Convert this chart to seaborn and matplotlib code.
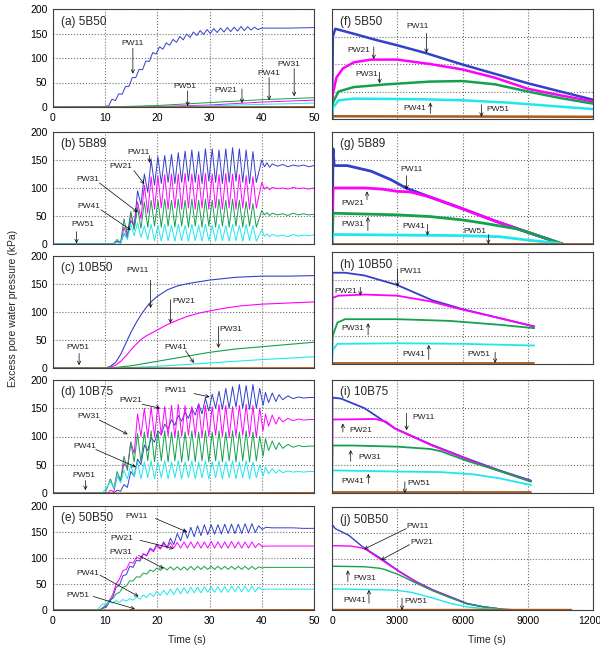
import numpy as np
import matplotlib
matplotlib.use("Agg")
import matplotlib.pyplot as plt
import seaborn as sns

sns.set_style("white")
plt.rcParams["font.family"] = ["Liberation Sans", "DejaVu Sans"]

COLORS = {"PW11": "#3340c8", "PW21": "#ff00ff", "PW31": "#14a04c",
          "PW41": "#1ee8ee", "PW51": "#a65a1e"}
PERIOD = 1.3  # shaking cycle seen in the records (s)

###################################################################
# (a) 5B50  - shaking phase
a_cyc_start = 10.0
a_pw11_peaks = [2, 16, 27, 42, 60, 77, 94, 111, 123, 131, 138, 144, 149, 153, 156, 158,
                160, 161, 162, 163, 164, 164, 163]
a_pw11_troughs = [2, 13, 26, 42, 60, 76, 93, 108, 118, 126, 132, 137, 142, 146, 148, 150,
                  152, 153, 154, 155, 156, 157, 158]
a_pw11_tail_t = [40, 45, 50]
a_pw11_tail_v = [161, 161, 162]
a_pw21 = [(0, 0), (10, 0), (20, 1), (30, 4), (40, 10), (50, 14)]
a_pw31 = [(0, 0), (10, 0), (20, 3), (30, 9), (40, 15), (50, 19)]
a_pw41 = [(0, 0), (15, 0), (25, 1), (35, 4), (50, 8)]
a_pw51 = [(0, 0), (50, 1)]

# (b) 5B89
b_cyc_start = 12.3
b_tail_t = [40.0, 40.5, 41, 41.5, 42, 43, 44, 45, 46, 47, 48, 49, 50]
b_pw11_peaks = [4, 18, 42, 95, 125, 150, 156, 158, 160, 163, 166, 168, 165, 170, 170, 168,
                170, 172, 170, 168, 165]
b_pw11_troughs = [2, 12, 32, 70, 92, 105, 108, 110, 108, 110, 112, 110, 108, 112, 110, 108,
                  110, 112, 110, 108, 110]
b_pw11_tail = [150, 138, 145, 137, 143, 139, 142, 138, 141, 139, 141, 138, 140]
b_pw21_peaks = [5, 30, 55, 75, 105, 120, 122, 124, 125, 125, 126, 125, 124, 126, 125, 124,
                126, 125, 124, 122, 120]
b_pw21_troughs = [2, 12, 30, 45, 55, 62, 64, 62, 64, 62, 64, 62, 64, 62, 64, 62, 64, 62, 64,
                  62, 64]
b_pw21_tail = [110, 98, 102, 97, 101, 99, 100, 98, 101, 99, 100, 98, 100]
b_pw31_peaks = [8, 45, 58, 65, 75, 78, 78, 80, 78, 80, 78, 80, 78, 80, 78, 80, 78, 80, 78,
                76, 72]
b_pw31_troughs = [2, 15, 25, 28, 30, 32, 30, 32, 30, 32, 30, 32, 30, 32, 30, 32, 30, 32, 30,
                  32, 30]
b_pw31_tail = [60, 52, 56, 51, 55, 52, 54, 51, 55, 52, 54, 52, 53]
b_pw41_peaks = [3, 20, 35, 38, 32, 35, 33, 35, 33, 35, 33, 35, 33, 35, 33, 35, 33, 35, 33,
                35, 33]
b_pw41_troughs = [1, 8, 15, 12, 8, 6, 5, 6, 5, 6, 5, 6, 5, 6, 5, 6, 5, 6, 5, 6, 5]
b_pw41_tail = [25, 14, 18, 13, 17, 14, 16, 13, 17, 14, 16, 15, 16]
b_pw51 = [(0, 0.5), (50, 0.5)]

# (c) 10B50
c_pw11 = [(0, 0), (10, 0), (11, 3), (12, 10), (13, 25), (14, 45), (15, 65), (16, 82), (17, 97),
          (18, 110), (19, 120), (20, 128), (22, 140), (24, 147), (26, 151), (28, 154), (30, 157),
          (32, 159), (35, 162), (40, 164), (45, 164), (50, 165)]
c_pw21 = [(0, 0), (10.5, 0), (12, 5), (13, 12), (14, 22), (15, 33), (16, 43), (17, 52), (18, 58),
          (20, 68), (22, 78), (24, 86), (26, 93), (28, 98), (30, 102), (33, 107), (36, 111),
          (40, 114), (45, 116), (50, 118)]
c_pw31 = [(0, 0), (11, 0), (15, 4), (20, 12), (25, 20), (30, 28), (35, 34), (40, 38), (45, 42),
          (50, 46)]
c_pw41 = [(0, 0), (13, 0), (20, 3), (25, 6), (30, 9), (40, 15), (50, 20)]
c_pw51 = [(0, 0), (50, 0.5)]

# (d) 10B75
d_cyc_start = 11.0
d_tail_t = [40.7, 41.3, 42, 42.7, 43.3, 44, 45, 46, 47, 48, 49, 50]
d_pw11_peaks = [0, 5, 15, 38, 60, 85, 98, 110, 122, 130, 137, 143, 150, 158, 168, 175, 180,
                185, 188, 192, 190, 192, 185]
d_pw11_troughs = [0, 3, 10, 30, 50, 75, 90, 103, 113, 120, 127, 132, 138, 140, 145, 150, 148,
                  150, 152, 150, 148, 150, 155]
d_pw11_tail = [178, 160, 177, 162, 174, 165, 172, 167, 170, 168, 169, 169]
d_pw21_peaks = [5, 30, 52, 90, 140, 150, 152, 155, 153, 155, 157, 155, 153, 157, 155, 153,
                157, 155, 153, 155, 157, 155, 150]
d_pw21_troughs = [2, 22, 45, 70, 100, 98, 100, 102, 100, 98, 100, 102, 100, 98, 100, 102, 100,
                  98, 100, 102, 100, 98, 110]
d_pw21_tail = [140, 118, 138, 122, 134, 126, 132, 128, 131, 129, 130, 130]
d_pw31_peaks = [25, 38, 65, 90, 105, 108, 110, 108, 110, 108, 110, 108, 110, 108, 110, 108,
                110, 108, 110, 108, 110, 108, 100]
d_pw31_troughs = [8, 22, 40, 55, 55, 57, 55, 57, 55, 57, 55, 57, 55, 57, 55, 57, 55, 57, 55,
                  57, 55, 57, 65]
d_pw31_tail = [96, 75, 92, 77, 89, 79, 86, 81, 84, 82, 83, 83]
d_pw41_peaks = [20, 30, 40, 50, 55, 55, 57, 55, 57, 55, 57, 55, 57, 55, 57, 55, 57, 55, 57,
                55, 57, 55, 50]
d_pw41_troughs = [8, 18, 25, 28, 25, 27, 25, 27, 25, 27, 25, 27, 25, 27, 25, 27, 25, 27, 25,
                  27, 25, 27, 30]
d_pw41_tail = [46, 34, 43, 35, 41, 36, 39, 37, 38, 37, 38, 38]
d_pw51 = [(0, 0), (12, 0), (50, 1)]

# (e) 50B50
e_cyc_start = 9.5
e_tail_t = [40.8, 42, 44, 46, 48, 50]
e_pw11_peaks = [3, 15, 44, 66, 84, 96, 108, 119, 127, 131, 138, 147, 155, 159, 162, 164, 164,
                164, 165, 165, 165, 166, 166, 162]
e_pw11_troughs = [5, 25, 48, 68, 82, 94, 105, 114, 118, 120, 126, 133, 138, 141, 143, 145, 146,
                  146, 147, 147, 147, 148, 149, 155]
e_pw11_tail = [159, 158, 158, 158, 157, 157]
e_pw21_peaks = [4, 18, 50, 76, 92, 102, 108, 117, 124, 128, 130, 130, 131, 131, 131, 131, 132,
                131, 131, 132, 131, 131, 131, 128]
e_pw21_troughs = [8, 30, 60, 78, 90, 98, 104, 112, 117, 119, 119, 119, 119, 119, 119, 119, 119,
                  119, 119, 119, 119, 119, 120, 122]
e_pw21_tail = [123, 123, 123, 123, 123, 123]
e_pw31_peaks = [4, 19, 31, 44, 56, 64, 71, 77, 81, 82, 83, 83, 83, 84, 84, 84, 84, 84, 84, 84,
                84, 84, 84, 83]
e_pw31_troughs = [10, 22, 34, 46, 56, 63, 69, 74, 76, 77, 77, 77, 77, 77, 78, 78, 78, 78, 78,
                  78, 78, 78, 78, 81]
e_pw31_tail = [82, 82, 82, 82, 82, 82]
e_pw41_peaks = [12, 15, 18, 20, 22, 25, 29, 32, 36, 38, 40, 42, 43, 44, 44, 45, 45, 45, 45, 46,
                46, 46, 46, 44]
e_pw41_troughs = [10, 13, 15, 17, 19, 21, 24, 26, 28, 29, 30, 31, 32, 33, 33, 34, 34, 34, 34,
                  35, 35, 35, 35, 39]
e_pw41_tail = [40, 40, 40, 40, 40, 40]
e_pw51 = [(0, 0), (50, 1)]

# (f)-(j) dissipation records (t in s)
f_pw11 = [(0, 0), (40, 150), (150, 164), (1000, 155), (2000, 144), (3000, 134), (4300, 120),
          (6000, 99), (7500, 82), (9000, 65), (10500, 50), (12000, 35)]
f_pw21 = [(0, 0), (40, 45), (200, 75), (500, 92), (1000, 103), (1800, 108), (3000, 108),
          (4500, 100), (6000, 90), (7500, 75), (9000, 55), (10500, 43), (12000, 32)]
f_pw31 = [(0, 0), (40, 30), (300, 50), (1000, 58), (2500, 63), (4500, 68), (6000, 69),
          (7500, 63), (9000, 50), (10500, 38), (12000, 28)]
f_pw41 = [(0, 0), (40, 20), (300, 34), (1000, 37), (4000, 36), (6000, 34), (8000, 30),
          (10000, 24), (12000, 18)]
f_pw51 = [(0, 0), (30, 5), (12000, 4)]

g_pw11 = [(0, 0), (50, 170), (100, 140), (700, 140), (1800, 130), (2700, 115), (3400, 100),
          (4500, 84), (6000, 63), (7500, 41), (9000, 21), (10600, 0)]
g_pw21 = [(0, 0), (50, 100), (1500, 100), (2300, 98), (3000, 94), (3600, 93), (4500, 84),
          (6000, 63), (7500, 41), (9000, 21), (10600, 0)]
g_pw31 = [(0, 0), (50, 55), (1000, 54), (3000, 52), (4500, 49), (6000, 43), (7000, 37),
          (8500, 27), (9000, 21), (10600, 0)]
g_pw41 = [(0, 0), (50, 17), (3000, 16), (6000, 15), (7700, 13), (9000, 7), (10500, 1)]
g_pw51 = [(0, 0.5), (12000, 0.5)]

h_pw11 = [(0, 0), (20, 163), (600, 163), (1500, 158), (3000, 141), (4600, 114), (6000, 98),
          (7700, 82), (9300, 67)]
h_pw21 = [(0, 0), (20, 118), (300, 122), (1500, 124), (3000, 122), (4500, 112), (5800, 99),
          (7700, 82), (9300, 67)]
h_pw31 = [(0, 0), (30, 50), (250, 74), (600, 80), (3000, 80), (5400, 77), (7700, 70),
          (9300, 64)]
h_pw41 = [(0, 0), (30, 25), (250, 36), (3000, 37), (6000, 36), (9300, 33)]
h_pw51 = [(0, 1), (9300, 1)]

i_pw11 = [(0, 0), (20, 169), (420, 167), (1500, 150), (2900, 114), (4600, 85), (6200, 61),
          (7700, 40), (9150, 22)]
i_pw21 = [(0, 0), (20, 130), (2000, 131), (2500, 126), (2900, 114), (4600, 84), (6200, 60),
          (7700, 39), (9150, 21)]
i_pw31 = [(0, 0), (20, 84), (1000, 84), (3000, 82), (4500, 78), (5000, 74), (6200, 57),
          (7700, 39), (9150, 20)]
i_pw41 = [(0, 0), (20, 40), (3000, 38), (5000, 37), (6500, 33), (7700, 26), (9150, 14)]
i_pw51 = [(0, 1), (9150, 1)]

j_pw11 = [(0, 0), (10, 166), (150, 158), (775, 145), (1400, 123), (2250, 100), (3100, 75),
          (3875, 55), (4650, 39), (5425, 26), (6200, 13), (6975, 6), (7750, 2), (8500, 0)]
j_pw21 = [(0, 0), (10, 125), (900, 124), (1300, 121), (1500, 119), (2250, 98), (3100, 74),
          (3875, 54), (4650, 38), (5425, 25), (6200, 12), (6975, 6), (7750, 2)]
j_pw31 = [(0, 0), (10, 85), (1500, 84), (2200, 81), (2400, 79), (3100, 68), (3875, 52),
          (4650, 37), (5425, 24), (6200, 12), (6975, 6), (7750, 2)]
j_pw41 = [(0, 0), (10, 41), (2500, 39), (3000, 38), (3700, 34), (4650, 23), (5425, 13),
          (6200, 6), (6975, 3), (7750, 1)]
j_pw51 = [(0, 1), (11000, 1)]

# labels: (text, text x, text y, ha, arrow tail x, y, arrow tip x, y)
a_notes = [("PW11", 15.2, 130, "center", 15.3, 120, 15.3, 68),
           ("PW51", 25.2, 41, "center", 25.8, 33, 25.8, 2),
           ("PW21", 33.1, 34, "center", 36.2, 37, 36.2, 8),
           ("PW41", 41.4, 69, "center", 41.4, 60, 41.4, 14),
           ("PW31", 45.2, 86, "center", 46.2, 78, 46.2, 22)]
b_notes = [("PW11", 16.4, 164, "center", 18.5, 158, 18.5, 145),
           ("PW21", 13.0, 139, "center", 15.5, 131, 17.5, 107),
           ("PW31", 6.6, 115, "center", 8.9, 109, 16.2, 57),
           ("PW41", 6.9, 67, "center", 9.2, 61, 14.9, 25),
           ("PW51", 5.7, 34, "center", 4.5, 22, 4.5, 1)]
c_notes = [("PW11", 16.2, 175, "center", 18.7, 157, 18.7, 107),
           ("PW21", 25.1, 119, "center", 22.5, 122, 22.5, 80),
           ("PW31", 34.0, 68, "center", 31.7, 74, 31.7, 36),
           ("PW41", 23.5, 37, "center", 25.4, 31, 27.0, 9),
           ("PW51", 4.7, 37, "center", 5.0, 26, 5.0, 5)]
d_notes = [("PW11", 23.5, 181, "center", 27.0, 176, 30.0, 170),
           ("PW21", 14.9, 163, "center", 17.1, 157, 20.5, 150),
           ("PW31", 6.9, 135, "center", 8.9, 129, 14.3, 104),
           ("PW41", 6.0, 83, "center", 8.2, 77, 15.9, 46),
           ("PW51", 6.0, 31, "center", 6.2, 22, 6.2, 5)]
e_notes = [("PW11", 16.1, 179, "center", 19.6, 176, 25.7, 150),
           ("PW21", 13.2, 137, "center", 16.7, 134, 23.1, 118),
           ("PW31", 12.9, 111, "center", 16.4, 105, 21.2, 80),
           ("PW41", 6.7, 70, "center", 9.0, 67, 16.4, 26),
           ("PW51", 4.8, 28, "center", 7.7, 26, 15.7, 2)]
f_notes = [("PW11", 3940, 168, "center", 4340, 156, 4340, 120),
           ("PW21", 1230, 125, "center", 1920, 131, 1920, 109),
           ("PW31", 1610, 81, "center", 2190, 85, 2190, 65),
           ("PW41", 3830, 19, "center", 4520, 10, 4520, 30),
           ("PW51", 7620, 17, "center", 6870, 26, 6870, 4)]
g_notes = [("PW11", 3660, 133, "center", 3430, 122, 3430, 97),
           ("PW21", 960, 73, "center", 1610, 79, 1610, 94),
           ("PW31", 960, 35, "center", 1650, 24, 1650, 48),
           ("PW41", 3740, 32, "center", 4390, 35, 4390, 15),
           ("PW51", 6570, 23, "center", 7190, 17, 7190, 0)]
h_notes = [("PW11", 3080, 166, "left", 3010, 170, 3010, 138),
           ("PW21", 650, 129, "center", 1300, 137, 1300, 122),
           ("PW31", 960, 64, "center", 1660, 52, 1660, 73),
           ("PW41", 3750, 17, "center", 4450, 8, 4450, 34),
           ("PW51", 6740, 17, "center", 7500, 21, 7500, 2)]
i_notes = [("PW11", 3700, 134, "left", 3430, 141, 3430, 111),
           ("PW21", 810, 110, "left", 500, 108, 500, 123),
           ("PW31", 1200, 63, "left", 860, 56, 860, 76),
           ("PW41", 420, 20, "left", 1670, 17, 1670, 34),
           ("PW51", 3480, 17, "left", 3350, 20, 3350, 0)]
j_notes = [("PW11", 3440, 163, "left", 3410, 158, 1470, 118),
           ("PW21", 3600, 131, "left", 3570, 127, 2250, 97),
           ("PW31", 1000, 61, "left", 730, 55, 730, 77),
           ("PW41", 510, 19, "left", 1700, 13, 1700, 39),
           ("PW51", 3330, 16, "left", 3220, 23, 3220, 0)]

titles = ["(a) 5B50", "(b) 5B89", "(c) 10B50", "(d) 10B75", "(e) 50B50",
          "(f) 5B50", "(g) 5B89", "(h) 10B50", "(i) 10B75", "(j) 50B50"]


def pts(pairs):
    arr = np.array(pairs, dtype=float)
    return arr[:, 0], arr[:, 1]


def cyc(t0, peaks, troughs, lead, tail_t, tail_v):
    # zero record before shaking, then peak / trough of each cycle, then the tail
    tp = t0 + PERIOD * np.arange(len(peaks))
    t = np.column_stack([tp, tp + PERIOD / 2]).ravel()
    v = np.column_stack([peaks, troughs]).ravel()
    return (np.concatenate([[0, lead], t, tail_t]),
            np.concatenate([[0, 0], v, tail_v]))


panels = [
    {"PW11": cyc(a_cyc_start, a_pw11_peaks, a_pw11_troughs, 9.8, a_pw11_tail_t, a_pw11_tail_v),
     "PW21": pts(a_pw21), "PW31": pts(a_pw31), "PW41": pts(a_pw41), "PW51": pts(a_pw51)},
    {"PW11": cyc(b_cyc_start, b_pw11_peaks, b_pw11_troughs, 11.5, b_tail_t, b_pw11_tail),
     "PW21": cyc(b_cyc_start, b_pw21_peaks, b_pw21_troughs, 11.5, b_tail_t, b_pw21_tail),
     "PW31": cyc(b_cyc_start, b_pw31_peaks, b_pw31_troughs, 11.5, b_tail_t, b_pw31_tail),
     "PW41": cyc(b_cyc_start, b_pw41_peaks, b_pw41_troughs, 11.5, b_tail_t, b_pw41_tail),
     "PW51": pts(b_pw51)},
    {"PW11": pts(c_pw11), "PW21": pts(c_pw21), "PW31": pts(c_pw31), "PW41": pts(c_pw41),
     "PW51": pts(c_pw51)},
    {"PW11": cyc(d_cyc_start, d_pw11_peaks, d_pw11_troughs, 10.8, d_tail_t, d_pw11_tail),
     "PW21": cyc(d_cyc_start, d_pw21_peaks, d_pw21_troughs, 10.5, d_tail_t, d_pw21_tail),
     "PW31": cyc(d_cyc_start, d_pw31_peaks, d_pw31_troughs, 10.0, d_tail_t, d_pw31_tail),
     "PW41": cyc(d_cyc_start, d_pw41_peaks, d_pw41_troughs, 9.5, d_tail_t, d_pw41_tail),
     "PW51": pts(d_pw51)},
    {"PW11": cyc(e_cyc_start, e_pw11_peaks, e_pw11_troughs, 9.0, e_tail_t, e_pw11_tail),
     "PW21": cyc(e_cyc_start, e_pw21_peaks, e_pw21_troughs, 9.0, e_tail_t, e_pw21_tail),
     "PW31": cyc(e_cyc_start, e_pw31_peaks, e_pw31_troughs, 9.0, e_tail_t, e_pw31_tail),
     "PW41": cyc(e_cyc_start, e_pw41_peaks, e_pw41_troughs, 8.5, e_tail_t, e_pw41_tail),
     "PW51": pts(e_pw51)},
    {"PW11": pts(f_pw11), "PW21": pts(f_pw21), "PW31": pts(f_pw31), "PW41": pts(f_pw41),
     "PW51": pts(f_pw51)},
    {"PW11": pts(g_pw11), "PW21": pts(g_pw21), "PW31": pts(g_pw31), "PW41": pts(g_pw41),
     "PW51": pts(g_pw51)},
    {"PW11": pts(h_pw11), "PW21": pts(h_pw21), "PW31": pts(h_pw31), "PW41": pts(h_pw41),
     "PW51": pts(h_pw51)},
    {"PW11": pts(i_pw11), "PW21": pts(i_pw21), "PW31": pts(i_pw31), "PW41": pts(i_pw41),
     "PW51": pts(i_pw51)},
    {"PW11": pts(j_pw11), "PW21": pts(j_pw21), "PW31": pts(j_pw31), "PW41": pts(j_pw41),
     "PW51": pts(j_pw51)},
]
notes = [a_notes, b_notes, c_notes, d_notes, e_notes, f_notes, g_notes, h_notes, i_notes, j_notes]
widths = [0.7, 0.7, 0.8, 0.7, 0.7, 1.8, 2.0, 1.3, 1.3, 1.0]

# axes boxes in pixels: (left, top, right, bottom)
boxes = [(53, 9, 314, 107), (53, 132, 314, 244), (53, 256, 314, 368), (53, 380, 314, 493),
         (53, 506, 314, 610),
         (332, 9, 593, 119), (332, 132, 593, 244), (332, 252, 593, 364), (332, 380, 593, 493),
         (332, 507, 593, 610)]

W, H = 600, 650
fig = plt.figure(figsize=(W / 100, H / 100), dpi=100)

for k in range(10):
    l, t, r, b = boxes[k]
    ax = fig.add_axes([l / W, 1 - b / H, (r - l) / W, (b - t) / H])
    for name, (xs, ys) in panels[k].items():
        sns.lineplot(x=xs, y=ys, ax=ax, color=COLORS[name], lw=widths[k],
                     sort=False, estimator=None, legend=False)
    left = k < 5
    if left:
        ax.set_xlim(0, 50)
        ax.set_xticks(np.arange(0, 51, 10))
    else:
        ax.set_xlim(0, 12000)
        ax.set_xticks(np.arange(0, 12001, 3000))
    ax.set_ylim(0, 200)
    ax.set_yticks(np.arange(0, 201, 50))
    ax.grid(True, ls=":", color="#707070", lw=0.8)
    for s in ax.spines.values():
        s.set_color("#404040")
        s.set_linewidth(0.8)
    ax.tick_params(labelsize=7.5, length=2, pad=2, colors="black")
    if not left:
        ax.tick_params(labelleft=False)
    if k not in (0, 4, 9):
        ax.tick_params(labelbottom=False)
    ax.set_xlabel("")
    ax.set_ylabel("")
    ax.text(0.03, 1 - 12.5 / (b - t), titles[k], transform=ax.transAxes,
            fontsize=8.5, va="center", ha="left")
    for lab, tx, ty, ha, x0, y0, x1, y1 in notes[k]:
        ax.text(tx, ty, lab, fontsize=6, ha=ha, va="center", color="#222222")
        ax.annotate("", xy=(x1, y1), xytext=(x0, y0),
                    arrowprops=dict(arrowstyle="->", lw=0.5, color="black",
                                    shrinkA=0, shrinkB=0, mutation_scale=6))

fig.text(0.022, 0.525, "Excess pore water pressure (kPa)", rotation=90,
         fontsize=7.5, ha="center", va="center")
fig.text(187 / W, 1 - 640 / H, "Time (s)", fontsize=7.5, ha="center", va="center")
fig.text(487 / W, 1 - 640 / H, "Time (s)", fontsize=7.5, ha="center", va="center")

fig.savefig("out.png", dpi=100)
